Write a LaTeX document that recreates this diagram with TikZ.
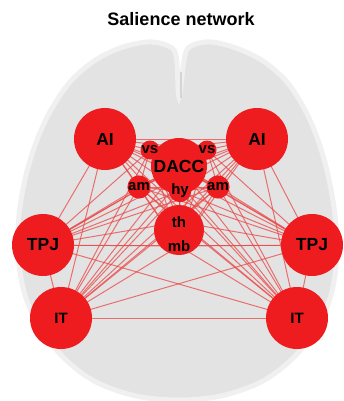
\documentclass[tikz,border=0pt]{standalone}
\usepackage{fontspec}
\setmainfont{Liberation Sans}
\definecolor{hubred}{RGB}{238,28,30}
\definecolor{linkred}{RGB}{234,72,72}
\pgfdeclarelayer{brain}
\pgfdeclarelayer{links}
\pgfsetlayers{brain,links,main}
\tikzset{
  hub/.style={circle,fill=hubred,inner sep=0pt,minimum size=#1,
    font=\bfseries\fontsize{17.5}{17.5}\selectfont},
  hub/.default=62pt,
  minor/.style={circle,fill=hubred,inner sep=0pt,minimum size=19pt,
    font=\bfseries\fontsize{15}{15}\selectfont},
  lab/.style={inner sep=0pt,font=\bfseries\fontsize{15}{15}\selectfont},
  link/.style={draw=linkred,line width=1pt,opacity=0.75}
}
\begin{document}
\begin{tikzpicture}[x=1pt,y=-1pt]
  \useasboundingbox (0,0) rectangle (343,401);
  \node[font=\bfseries\fontsize{18}{18}\selectfont] (title) at (181,19) {Salience network};

  % brain seen from above
  \begin{pgfonlayer}{brain}
    \draw[black!6,fill=black!11,line width=5pt] plot[smooth cycle,tension=0.55] coordinates {
      (179,97) (176,55) (166,45) (147,42) (120,48) (94,61) (70,82) (51,110)
      (37,140) (26,175) (19,215) (18,255) (25,295) (41,330) (66,360) (96,382)
      (136,396) (179,400) (221,396) (261,382) (291,360) (316,330) (331,295)
      (337,255) (335,215) (328,175) (318,140) (305,110) (287,82) (263,61)
      (236,48) (211,42) (193,45) (185,55)};
    \draw[black!17,line width=1.5pt] (181,98) -- (181,72);
  \end{pgfonlayer}

  % regions
  \node[hub] (AIl) at (105,139) {AI};
  \node[hub] (AIr) at (257,139) {AI};
  \node[hub=56pt] (DACC) at (179,166) {DACC};
  \node[minor] (vsl) at (150,150) {vs};
  \node[minor] (vsr) at (207,150) {vs};
  \node[minor] (aml) at (139,187) {am};
  \node[minor] (amr) at (218,187) {am};
  \node[minor] (hy) at (180,191) {hy};
  \node[hub=50pt] (thmb) at (179,230) {};
  \node[lab] (th) at (179,222) {th};
  \node[lab] (mb) at (179,246) {mb};
  \node[hub] (TPJl) at (43,245) {TPJ};
  \node[hub] (TPJr) at (312,245) {TPJ};
  \node[hub,font=\bfseries\fontsize{15}{15}\selectfont] (ITl) at (61,318) {IT};
  \node[hub,font=\bfseries\fontsize{15}{15}\selectfont] (ITr) at (297,318) {IT};

  % every pair is linked
  \begin{pgfonlayer}{links}
    \foreach \a [count=\i] in {AIl,AIr,DACC,vsl,vsr,aml,amr,hy,th,mb,TPJl,TPJr,ITl,ITr}{
      \foreach \b [count=\j] in {AIl,AIr,DACC,vsl,vsr,aml,amr,hy,th,mb,TPJl,TPJr,ITl,ITr}{
        \ifnum\j>\i \draw[link] (\a.center) -- (\b.center); \fi
      }
    }
  \end{pgfonlayer}
\end{tikzpicture}
\end{document}
